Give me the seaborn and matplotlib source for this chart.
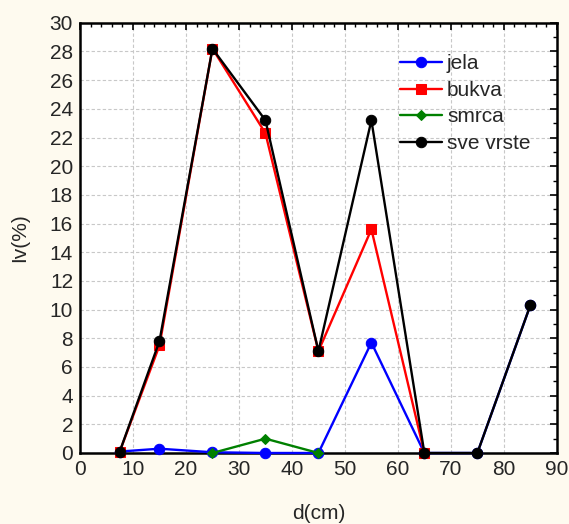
import matplotlib
matplotlib.use("Agg")
import matplotlib.pyplot as plt
import seaborn as sns
import pandas as pd
from matplotlib.ticker import MultipleLocator

# diameter classes (cm)
d_jela = [7.5, 15, 25, 35, 45, 55, 65, 75, 85]
iv_jela = [0.1, 0.3, 0.05, 0.0, 0.0, 7.7, 0.0, 0.0, 10.3]

d_bukva = [7.5, 15, 25, 35, 45, 55, 65]
iv_bukva = [0.1, 7.5, 28.2, 22.3, 7.1, 15.6, 0.0]

d_smrca = [25, 35, 45]
iv_smrca = [0.0, 1.0, 0.0]

d_sve = [7.5, 15, 25, 35, 45, 55, 65, 75, 85]
iv_sve = [0.1, 7.8, 28.2, 23.2, 7.1, 23.2, 0.0, 0.0, 10.3]

series = ["jela", "bukva", "smrca", "sve vrste"]
colors = ["#0000ff", "#ff0000", "#008000", "#000000"]
markers = ["o", "s", "D", "o"]
msizes = [7.5, 7.5, 5, 7.5]

frames = []
for name, xs, ys in zip(series, [d_jela, d_bukva, d_smrca, d_sve],
                        [iv_jela, iv_bukva, iv_smrca, iv_sve]):
    frames.append(pd.DataFrame({"d": xs, "iv": ys, "vrsta": name}))
df = pd.concat(frames, ignore_index=True)

sns.set_style("white")
plt.rcParams["font.family"] = ["Liberation Sans", "DejaVu Sans"]

bg = "#fefaef"
fig = plt.figure(figsize=(5.69, 5.24), dpi=100, facecolor=bg)
ax = fig.add_axes([0.1406, 0.1355, 0.838, 0.821])

for name, col, mk, ms in zip(series, colors, markers, msizes):
    sub = df[df["vrsta"] == name]
    sns.lineplot(data=sub, x="d", y="iv", color=col, marker=mk, markersize=ms,
                 markeredgecolor=col, linewidth=1.7, label=name, ax=ax,
                 clip_on=False, zorder=3)

ax.set_xlim(0, 90)
ax.set_ylim(0, 30)
ax.xaxis.set_major_locator(MultipleLocator(10))
ax.xaxis.set_minor_locator(MultipleLocator(2))
ax.yaxis.set_major_locator(MultipleLocator(2))
ax.yaxis.set_minor_locator(MultipleLocator(1))
ax.grid(True, which="major", color="#c8c8c8", linestyle=(0, (3, 2)), linewidth=0.8)
ax.tick_params(which="both", direction="in", top=True, right=True, color="black")
ax.tick_params(which="major", length=5, width=1.2, labelsize=15, pad=5)
ax.tick_params(which="minor", length=3, width=1.0)
for s in ax.spines.values():
    s.set_color("black")
    s.set_linewidth(1.8)

ax.set_xlabel("d(cm)", fontsize=15, labelpad=18)
ax.set_ylabel("Iv(%)", fontsize=15, labelpad=15)

leg = ax.legend(loc="upper left", bbox_to_anchor=(0.632, 0.97), frameon=False,
                fontsize=15, handlelength=2.0, handletextpad=0.25,
                labelspacing=0.36)

fig.savefig("out.png", dpi=100, facecolor=bg)
